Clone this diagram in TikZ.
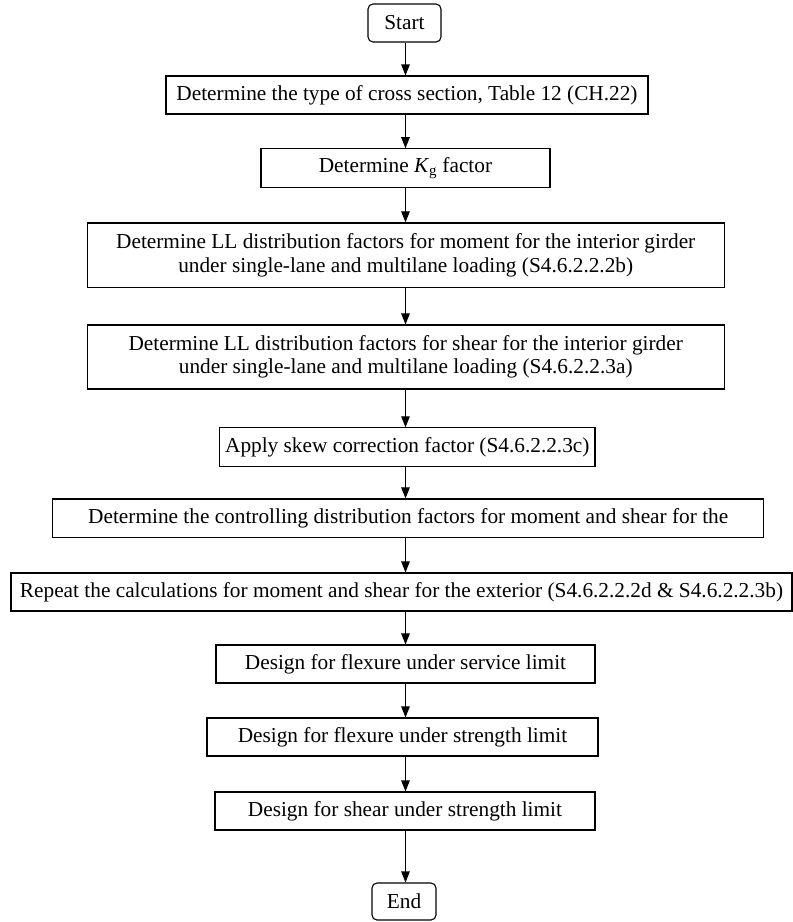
\documentclass[tikz,border=0pt]{standalone}
\usepackage{fontspec}
\setmainfont{Liberation Serif}
\usetikzlibrary{arrows.meta}
\begin{document}
\begin{tikzpicture}[x=1pt,y=-1pt,
  box/.style={draw, line width=1.1pt, inner sep=0pt, align=center,
    font=\fontsize{21.3}{23.3}\selectfont},
  term/.style={box, rounded corners=5pt},
  arr/.style={line width=1.1pt, -{Triangle[width=8.5pt,length=11pt]}}]
\useasboundingbox (0,0) rectangle (793,922);
\coordinate (ax) at (405.5,0);
\node[term, minimum width=73pt, minimum height=38pt] (start) at (404.5,23) {Start};
\node[box, minimum width=482pt, minimum height=38pt] (cross) at (407,95) {Determine the type of cross section, Table 12 (CH.22)};
\node[box, minimum width=289pt, minimum height=38.5pt] (kg) at (405.5,168) {Determine \textit{K}\textsubscript{g} factor};
\node[box, minimum width=637pt, minimum height=64.7pt] (llm) at (405.7,255.3) {Determine LL distribution factors for moment for the interior girder\\under single-lane and multilane loading (S4.6.2.2.2b)};
\node[box, minimum width=637pt, minimum height=64pt] (lls) at (405.7,357) {Determine LL distribution factors for shear for the interior girder\\under single-lane and multilane loading (S4.6.2.2.3a)};
\node[box, minimum width=375.4pt, minimum height=38.3pt] (skew) at (407.3,447) {Apply skew correction factor (S4.6.2.2.3c)};
\node[box, minimum width=710.7pt, minimum height=38.7pt] (ctrl) at (408.2,518.3) {Determine the controlling distribution factors for moment and shear for the};
\node[box, minimum width=781pt, minimum height=38pt] (rep) at (401.5,592) {Repeat the calculations for moment and shear for the exterior (S4.6.2.2.2d \& S4.6.2.2.3b)};
\node[box, minimum width=379pt, minimum height=38pt] (serv) at (405.5,664) {Design for flexure under service limit};
\node[box, minimum width=391pt, minimum height=38pt] (str) at (402.5,737) {Design for flexure under strength limit};
\node[box, minimum width=380pt, minimum height=38pt] (shr) at (405,811) {Design for shear under strength limit};
\node[term, minimum width=64pt, minimum height=37pt] (end) at (404,901.5) {End};
\foreach \a/\b in {start/cross,cross/kg,kg/llm,llm/lls,lls/skew,skew/ctrl,ctrl/rep,rep/serv,serv/str,str/shr,shr/end}
  \draw[arr] (\a.south -| ax) -- (\b.north -| ax);
\end{tikzpicture}
\end{document}
